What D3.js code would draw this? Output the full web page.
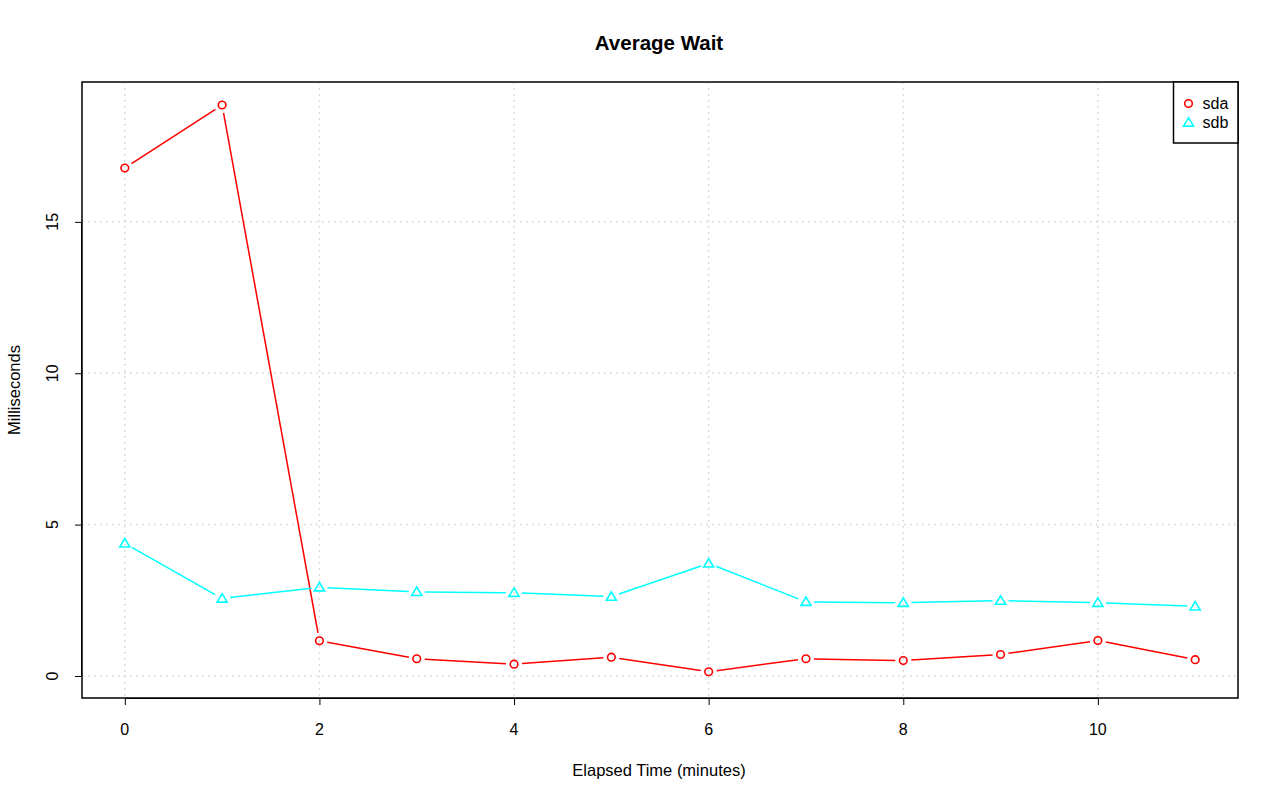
<!DOCTYPE html>
<html><head><meta charset="utf-8">
<script src="https://cdn.jsdelivr.net/npm/d3@7"></script>
<style>body{margin:0;background:#fff}svg{font-family:"Liberation Sans",Arial,sans-serif}</style>
</head><body><svg id="c" width="1280" height="801"></svg>
<script>
const minutes = [0,1,2,3,4,5,6,7,8,9,10,11];
const sda = [16.78,18.86,1.16,0.57,0.39,0.62,0.14,0.57,0.51,0.71,1.17,0.54];
const sdb = [4.38,2.56,2.93,2.78,2.75,2.62,3.72,2.45,2.42,2.49,2.42,2.30];
const xTicks = [0,2,4,6,8,10];
const yTicks = [0,5,10,15];
const xLimits = [-0.44,11.44];
const yLimits = [-0.727,19.62];
const seriesNames = ["sda","sdb"];
const seriesColors = ["#ff0000","#00ffff"];

const svg = d3.select("#c");
const L=82,R=1238,T=82,B=698;
const x = d3.scaleLinear().domain(xLimits).range([L,R]);
const y = d3.scaleLinear().domain(yLimits).range([B,T]);

// grid
const g = svg.append("g");
g.selectAll(".vx").data(xTicks).enter().append("line")
 .attr("x1",d=>x(d)).attr("x2",d=>x(d)).attr("y1",T).attr("y2",B)
 .attr("stroke","#d3d3d3").attr("stroke-width",1.5).attr("stroke-dasharray","1.5,4.5");
g.selectAll(".hy").data(yTicks).enter().append("line")
 .attr("y1",d=>y(d)).attr("y2",d=>y(d)).attr("x1",L).attr("x2",R)
 .attr("stroke","#d3d3d3").attr("stroke-width",1.5).attr("stroke-dasharray","1.5,4.5");

// axes
const xa = d3.axisBottom(x).tickValues(xTicks).tickSize(7).tickPadding(0).tickFormat(d3.format("d"));
const xg = svg.append("g").attr("transform",`translate(0,${B})`).call(xa);
xg.select(".domain").attr("d",`M${x(0)},0.5H${x(10)}`).attr("stroke","#000");
xg.selectAll("text").remove();
svg.selectAll(".xlab").data(xTicks).enter().append("text")
 .attr("x",d=>x(d)).attr("y",729).attr("dy","0.35em")
 .attr("text-anchor","middle").attr("font-size",16).attr("fill","#000").text(d=>d);
const ya = d3.axisLeft(y).tickValues(yTicks).tickSize(7).tickFormat(d3.format("d"));
const yg = svg.append("g").attr("transform",`translate(${L},0)`).call(ya);
yg.select(".domain").attr("d",`M-0.5,${y(0)}V${y(15)}`).attr("stroke","#000");
yg.selectAll("text").remove();
svg.selectAll(".ylab").data(yTicks).enter().append("text")
 .attr("transform",d=>`translate(52,${y(d)}) rotate(-90)`).attr("dy","0.35em")
 .attr("text-anchor","middle").attr("font-size",16).attr("fill","#000").text(d=>d);

// box
svg.append("rect").attr("x",L).attr("y",T).attr("width",R-L).attr("height",B-T)
 .attr("fill","none").attr("stroke","#000").attr("stroke-width",1.5);

// series
function drawSeries(vals,color,shape){
  const pts = vals.map((v,i)=>[x(minutes[i]),y(v)]);
  const gap = 8;
  for(let i=0;i<pts.length-1;i++){
    const [x1,y1]=pts[i],[x2,y2]=pts[i+1];
    const dx=x2-x1, dy=y2-y1, len=Math.hypot(dx,dy);
    if(len<=2*gap) continue;
    const ux=dx/len, uy=dy/len;
    svg.append("line").attr("x1",x1+ux*gap).attr("y1",y1+uy*gap)
     .attr("x2",x2-ux*gap).attr("y2",y2-uy*gap)
     .attr("stroke",color).attr("stroke-width",1.5);
  }
  pts.forEach(p=>drawMarker(p[0],p[1],color,shape));
}
function drawMarker(cx,cy,color,shape){
  if(shape==="circle"){
    svg.append("circle").attr("cx",cx).attr("cy",cy).attr("r",3.8)
     .attr("fill","none").attr("stroke",color).attr("stroke-width",1.6);
  } else {
    const s=4.8;
    svg.append("path").attr("d",`M${cx},${cy-s}L${cx+s*1.05},${cy+s*0.75}L${cx-s*1.05},${cy+s*0.75}Z`)
     .attr("fill","none").attr("stroke",color).attr("stroke-width",1.6);
  }
}
drawSeries(sda,seriesColors[0],"circle");
drawSeries(sdb,seriesColors[1],"triangle");

// legend
svg.append("rect").attr("x",1173.5).attr("y",T).attr("width",R-1173.5).attr("height",61)
 .attr("fill","#fff").attr("stroke","#000").attr("stroke-width",1.5);
seriesNames.forEach((n,i)=>{
  drawMarker(1188.5,103.5+i*19,seriesColors[i],i===0?"circle":"triangle");
  svg.append("text").attr("x",1202.5).attr("y",103.5+i*19).attr("dy","0.35em")
   .attr("font-size",16).text(n);
});

// titles
svg.append("text").attr("x",659).attr("y",43).attr("dy","0.35em").attr("text-anchor","middle")
 .attr("font-size",20.5).attr("font-weight","bold").text("Average Wait");
svg.append("text").attr("x",659).attr("y",770).attr("dy","0.35em").attr("text-anchor","middle")
 .attr("font-size",16.5).text("Elapsed Time (minutes)");
svg.append("text").attr("transform","translate(14,390) rotate(-90)").attr("dy","0.35em").attr("text-anchor","middle")
 .attr("font-size",16.5).text("Milliseconds");
</script></body></html>
